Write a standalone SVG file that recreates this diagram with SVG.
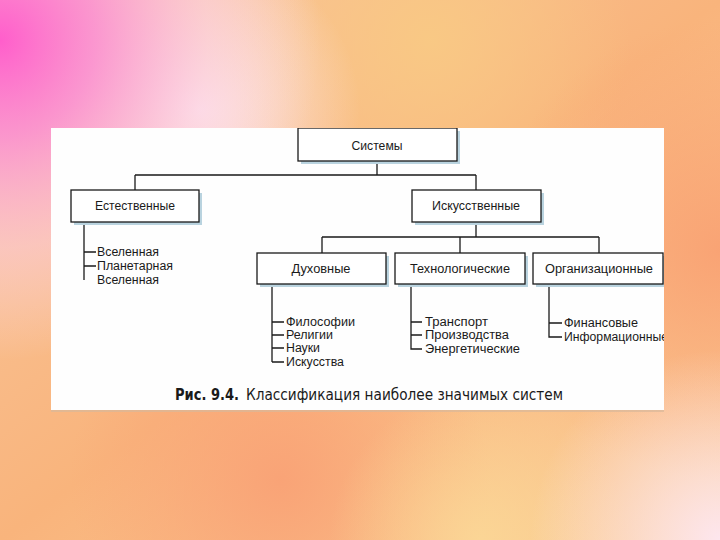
<svg xmlns="http://www.w3.org/2000/svg" width="720" height="540" viewBox="0 0 720 540">
<defs>
<linearGradient id="base" x1="0" y1="0" x2="1" y2="1">
<stop offset="0" stop-color="#f9c8a0"/>
<stop offset="0.5" stop-color="#f9b47c"/>
<stop offset="1" stop-color="#fbcf98"/>
</linearGradient>
<radialGradient id="pink" cx="0" cy="40" r="320" gradientUnits="userSpaceOnUse">
<stop offset="0" stop-color="#ff5ecb" stop-opacity="1"/>
<stop offset="0.3" stop-color="#fb8ed6" stop-opacity="0.85"/>
<stop offset="0.65" stop-color="#fccbe2" stop-opacity="0.55"/>
<stop offset="1" stop-color="#fde0ea" stop-opacity="0"/>
</radialGradient>
<radialGradient id="glow" cx="200" cy="110" r="160" gradientUnits="userSpaceOnUse">
<stop offset="0" stop-color="#fdeaee" stop-opacity="0.95"/>
<stop offset="1" stop-color="#fdeaee" stop-opacity="0"/>
</radialGradient>
<radialGradient id="yel" cx="430" cy="40" r="200" gradientUnits="userSpaceOnUse">
<stop offset="0" stop-color="#f9ca84" stop-opacity="0.9"/>
<stop offset="1" stop-color="#f9ca84" stop-opacity="0"/>
</radialGradient>
<radialGradient id="orR" cx="720" cy="250" r="230" gradientUnits="userSpaceOnUse">
<stop offset="0" stop-color="#f9a072" stop-opacity="0.9"/>
<stop offset="1" stop-color="#f9a072" stop-opacity="0"/>
</radialGradient>
<radialGradient id="orB" cx="280" cy="480" r="210" gradientUnits="userSpaceOnUse">
<stop offset="0" stop-color="#f9a276" stop-opacity="0.95"/>
<stop offset="1" stop-color="#f9a276" stop-opacity="0"/>
</radialGradient>
<radialGradient id="yelB" cx="480" cy="540" r="150" gradientUnits="userSpaceOnUse">
<stop offset="0" stop-color="#fbd796" stop-opacity="0.9"/>
<stop offset="1" stop-color="#fbd796" stop-opacity="0"/>
</radialGradient>
<radialGradient id="wBR" cx="720" cy="540" r="190" gradientUnits="userSpaceOnUse">
<stop offset="0" stop-color="#fde6ee" stop-opacity="1"/>
<stop offset="1" stop-color="#fde6ee" stop-opacity="0"/>
</radialGradient>
<clipPath id="panelClip"><rect x="51" y="128" width="613" height="282"/></clipPath>
<style>
.box{fill:#fff;stroke:#1a1a1a;stroke-width:1.3}
.sh{fill:#b9d3df}
.bt{font-family:"Liberation Sans",Arial,sans-serif;font-size:12.5px;fill:#1a1a1a;text-anchor:middle}
.lt{font-family:"Liberation Sans",Arial,sans-serif;font-size:12.5px;fill:#1a1a1a}
.ln{stroke:#1a1a1a;stroke-width:1.3;fill:none}
.cap{font-family:"DejaVu Sans",Verdana,sans-serif;font-size:15.5px;fill:#1a1a1a}
</style>
</defs>
<rect width="720" height="540" fill="url(#base)"/>
<rect width="720" height="540" fill="url(#yel)"/>
<rect width="720" height="540" fill="url(#orR)"/>
<rect width="720" height="540" fill="url(#orB)"/>
<rect width="720" height="540" fill="url(#yelB)"/>
<rect width="720" height="540" fill="url(#wBR)"/>
<rect width="720" height="540" fill="url(#glow)"/>
<rect width="720" height="540" fill="url(#pink)"/>
<rect x="51" y="410" width="613" height="2" fill="#d8b89a" opacity="0.7"/>
<rect x="51" y="128" width="613" height="282" fill="#fefefe"/>
<g clip-path="url(#panelClip)">
<g id="connectors">
<path class="ln" d="M377 161V175M135 175H476M135 175V190M476 175V190"/>
<path class="ln" d="M476 222V237M322 237H599M322 237V253M460 237V253M599 237V253"/>
<path class="ln" d="M84 222V280M84 252H96M84 266H96"/>
<path class="ln" d="M272 284V362M272 322H284M272 335H284M272 348H284M272 362H284"/>
<path class="ln" d="M411 284V349H422M411 322H422M411 335H422"/>
<path class="ln" d="M549 284V337H562M549 323H562"/>
</g>
<g id="n-systems">
<rect class="sh" x="301" y="131" width="159" height="33"/>
<rect class="box" x="298" y="128" width="159" height="33"/>
<text class="bt" x="377" y="150" textLength="51" lengthAdjust="spacingAndGlyphs">Системы</text>
</g>
<g id="n-natural">
<rect class="sh" x="74" y="193" width="128" height="32"/>
<rect class="box" x="71" y="190" width="128" height="32"/>
<text class="bt" x="135" y="210" textLength="80" lengthAdjust="spacingAndGlyphs">Естественные</text>
</g>
<g id="n-artificial">
<rect class="sh" x="415" y="193" width="129" height="32"/>
<rect class="box" x="412" y="190" width="129" height="32"/>
<text class="bt" x="476" y="210" textLength="88" lengthAdjust="spacingAndGlyphs">Искусственные</text>
</g>
<g id="n-spiritual">
<rect class="sh" x="260" y="256" width="129" height="31"/>
<rect class="box" x="257" y="253" width="129" height="31"/>
<text class="bt" x="321" y="273" textLength="59" lengthAdjust="spacingAndGlyphs">Духовные</text>
</g>
<g id="n-tech">
<rect class="sh" x="398" y="256" width="130" height="31"/>
<rect class="box" x="395" y="253" width="130" height="31"/>
<text class="bt" x="460" y="273" textLength="100" lengthAdjust="spacingAndGlyphs">Технологические</text>
</g>
<g id="n-org">
<rect class="sh" x="536" y="256" width="130" height="31"/>
<rect class="box" x="533" y="253" width="130" height="31"/>
<text class="bt" x="599" y="273" textLength="108" lengthAdjust="spacingAndGlyphs">Организационные</text>
</g>
<g id="list-natural">
<text class="lt" x="97" y="256" textLength="62" lengthAdjust="spacingAndGlyphs">Вселенная</text>
<text class="lt" x="97" y="270" textLength="76" lengthAdjust="spacingAndGlyphs">Планетарная</text>
<text class="lt" x="97" y="284" textLength="62" lengthAdjust="spacingAndGlyphs">Вселенная</text>
</g>
<g id="list-spiritual">
<text class="lt" x="286" y="326" textLength="69" lengthAdjust="spacingAndGlyphs">Философии</text>
<text class="lt" x="286" y="339" textLength="47" lengthAdjust="spacingAndGlyphs">Религии</text>
<text class="lt" x="286" y="352" textLength="34" lengthAdjust="spacingAndGlyphs">Науки</text>
<text class="lt" x="286" y="366" textLength="58" lengthAdjust="spacingAndGlyphs">Искусства</text>
</g>
<g id="list-tech">
<text class="lt" x="425" y="326" textLength="63" lengthAdjust="spacingAndGlyphs">Транспорт</text>
<text class="lt" x="425" y="339" textLength="84" lengthAdjust="spacingAndGlyphs">Производства</text>
<text class="lt" x="425" y="353" textLength="95" lengthAdjust="spacingAndGlyphs">Энергетические</text>
</g>
<g id="list-org">
<text class="lt" x="564" y="327" textLength="74" lengthAdjust="spacingAndGlyphs">Финансовые</text>
<text class="lt" x="564" y="341" textLength="104" lengthAdjust="spacingAndGlyphs">Информационные</text>
</g>
</g>
<g id="caption">
<text class="cap" x="175" y="400"><tspan font-weight="bold" textLength="64" lengthAdjust="spacingAndGlyphs">Рис. 9.4.</tspan><tspan x="246" textLength="317" lengthAdjust="spacingAndGlyphs">Классификация наиболее значимых систем</tspan></text>
</g>
</svg>
